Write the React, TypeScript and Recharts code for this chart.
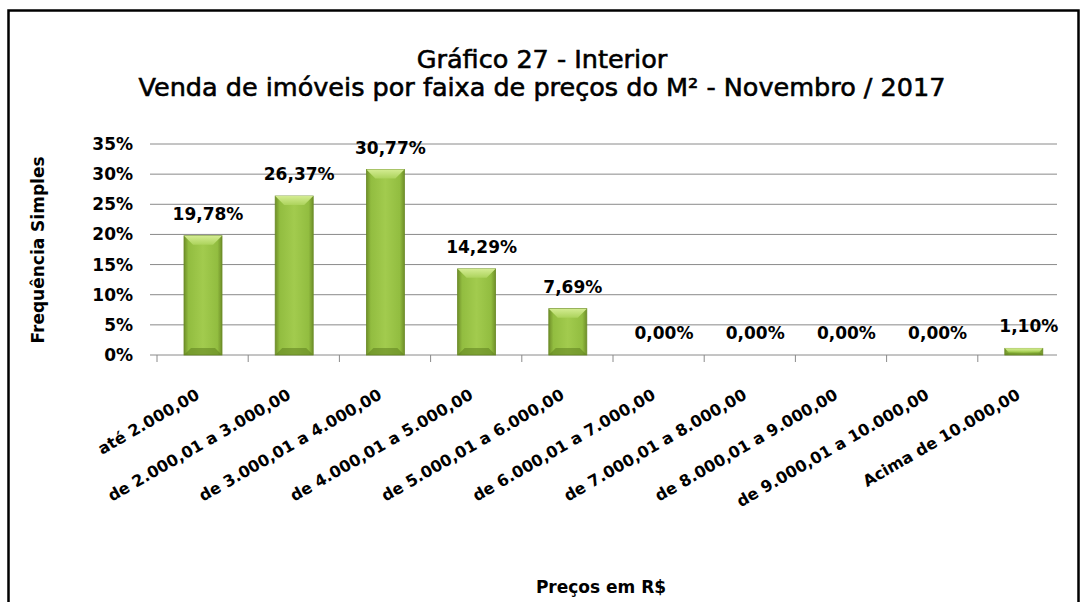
import { BarChart, Bar, XAxis, YAxis, CartesianGrid, LabelList } from "recharts";

// faixas de preço do m² (eixo X)
const faixas = [
  "até 2.000,00",
  "de 2.000,01 a 3.000,00",
  "de 3.000,01 a 4.000,00",
  "de 4.000,01 a 5.000,00",
  "de 5.000,01 a 6.000,00",
  "de 6.000,01 a 7.000,00",
  "de 7.000,01 a 8.000,00",
  "de 8.000,01 a 9.000,00",
  "de 9.000,01 a 10.000,00",
  "Acima de 10.000,00",
];

// frequência simples (%)
const frequencia = [19.78, 26.37, 30.77, 14.29, 7.69, 0, 0, 0, 0, 1.1];

const yTicks = [0, 5, 10, 15, 20, 25, 30, 35];

const data = faixas.map((faixa, i) => ({ faixa, valor: frequencia[i] }));

const W = 1086;
const H = 602;
const PLOT_LEFT = 157;
const PLOT_RIGHT = 1069;
const PLOT_TOP = 144;
const PLOT_BOTTOM = 355;
const BAND = (PLOT_RIGHT - PLOT_LEFT) / faixas.length;
const FONT = "'DejaVu Sans', sans-serif";
const GRID = "#8a8a8a";

const fmt = (v: number) => v.toFixed(2).replace(".", ",") + "%";

// barra verde com bisel, no estilo do Excel
const GreenBar = (props: any) => {
  const { x, y, width, height } = props;
  if (!height || height <= 0) return null;
  const bt = Math.min(9, height / 2);
  const bb = Math.min(7, height / 3);
  return (
    <g>
      <rect x={x} y={y} width={width} height={height} fill="url(#barH)" stroke="#6a8a26" strokeWidth={0.8} />
      <polygon
        points={`${x},${y} ${x + width},${y} ${x + width - bt},${y + bt} ${x + bt},${y + bt}`}
        fill="url(#barTop)"
      />
      <polygon
        points={`${x + bb},${y + height - bb} ${x + width - bb},${y + height - bb} ${x + width},${y + height} ${x},${y + height}`}
        fill="#5f7f1f"
        opacity={0.55}
      />
    </g>
  );
};

const renderLabel = (props: any) => {
  const { x, y, width, value } = props;
  return (
    <text
      x={x + width / 2 + 5}
      y={y - 16}
      textAnchor="middle"
      fontFamily={FONT}
      fontWeight="bold"
      fontSize={17}
      fill="#000"
    >
      {fmt(value)}
    </text>
  );
};

const XTick = (props: any) => {
  const { x, y, payload } = props;
  const tx = x - 2;
  const ty = y + 43;
  return (
    <g>
      <line x1={x - BAND / 2} x2={x - BAND / 2} y1={y} y2={y + 7} stroke={GRID} />
      <text
        x={tx}
        y={ty}
        transform={`rotate(-30, ${tx}, ${ty})`}
        textAnchor="end"
        fontFamily={FONT}
        fontWeight="bold"
        fontSize={16}
        fill="#000"
      >
        {payload.value}
      </text>
    </g>
  );
};

export default function App() {
  return (
    <div
      style={{
        position: "fixed",
        left: 0,
        top: 0,
        width: W,
        height: H,
        overflow: "hidden",
        background: "#fff",
      }}
    >
      <div style={{ position: "absolute", left: 0, top: 0 }}>
        <BarChart
          width={W}
          height={H}
          data={data}
          margin={{ top: PLOT_TOP, right: W - PLOT_RIGHT, left: PLOT_LEFT - 60, bottom: 0 }}
          barSize={38}
        >
          <defs>
            <linearGradient id="barH" x1="0" y1="0" x2="1" y2="0">
              <stop offset="0%" stopColor="#6f8f29" />
              <stop offset="12%" stopColor="#92bd40" />
              <stop offset="50%" stopColor="#a2cb4e" />
              <stop offset="88%" stopColor="#92bd40" />
              <stop offset="100%" stopColor="#6f8f29" />
            </linearGradient>
            <linearGradient id="barTop" x1="0" y1="0" x2="0" y2="1">
              <stop offset="0%" stopColor="#d4ec92" />
              <stop offset="100%" stopColor="#acd35c" />
            </linearGradient>
          </defs>
          <CartesianGrid
            vertical={false}
            stroke={GRID}
            x={PLOT_LEFT}
            width={1057 - PLOT_LEFT}
          />
          <XAxis
            dataKey="faixa"
            interval={0}
            axisLine={false}
            tickLine={false}
            tickSize={0}
            tickMargin={0}
            height={H - PLOT_BOTTOM}
            tick={<XTick />}
          />
          <YAxis
            type="number"
            domain={[0, 35]}
            ticks={yTicks}
            width={60}
            axisLine={false}
            tickLine={{ stroke: GRID }}
            tickSize={7}
            tickMargin={17}
            tickFormatter={(v: number) => `${v}%`}
            tick={{ fontSize: 17, fontWeight: "bold", fill: "#000", fontFamily: FONT }}
          />
          <Bar dataKey="valor" shape={<GreenBar />} isAnimationActive={false}>
            <LabelList dataKey="valor" content={renderLabel} />
          </Bar>
        </BarChart>
      </div>
      <svg
        width={W}
        height={H}
        style={{ position: "absolute", left: 0, top: 0, pointerEvents: "none" }}
      >
        <rect x={8.5} y={10.5} width={1070} height={700} fill="none" stroke="#000" strokeWidth={2.5} />
        <g fontFamily={FONT} fontSize={25.5} fill="#000" stroke="#000" strokeWidth={0.6} textAnchor="middle">
          <text x={542} y={68}>Gráfico 27 - Interior</text>
          <text x={542} y={96}>Venda de imóveis por faixa de preços do M² - Novembro / 2017</text>
        </g>
        <text
          x={44}
          y={250}
          transform="rotate(-90, 44, 250)"
          textAnchor="middle"
          fontFamily={FONT}
          fontWeight="bold"
          fontSize={17}
          fill="#000"
        >
          Frequência Simples
        </text>
        <text x={601} y={593} textAnchor="middle" fontFamily={FONT} fontWeight="bold" fontSize={17} fill="#000">
          Preços em R$
        </text>
      </svg>
    </div>
  );
}
